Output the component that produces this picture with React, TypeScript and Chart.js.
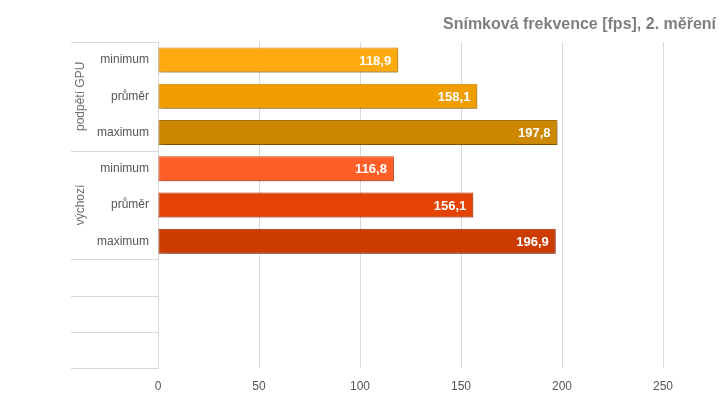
import React, { useEffect, useRef } from "react";
import { Chart, registerables } from "chart.js";

Chart.register(...registerables);

const title = "Snímková frekvence [fps], 2. měření";
const categories = ["minimum", "průměr", "maximum", "minimum", "průměr", "maximum", "", "", ""];
const values: (number | null)[] = [118.9, 158.1, 197.8, 116.8, 156.1, 196.9, null, null, null];
const groups = [
  { label: "podpětí GPU", from: 0, to: 2 },
  { label: "výchozí", from: 3, to: 5 },
];
const barColors = ["#FDAA10", "#F09D00", "#CC8800", "#FF5F26", "#E54304", "#CC3B00", "#000", "#000", "#000"];
const barBorders = ["#D68C08", "#C88300", "#A87000", "#D94A17", "#BF3600", "#A83000", "#000", "#000", "#000"];
const xTicks = [0, 50, 100, 150, 200, 250];

const FONT = "'Liberation Sans', Arial, sans-serif";
const GRID = "#d9d9d9";

export default function App() {
  const ref = useRef<HTMLCanvasElement | null>(null);

  useEffect(() => {
    document.body.style.margin = "0";
    const canvas = ref.current;
    if (!canvas) return;

    const decor = {
      id: "decor",
      beforeDatasetsDraw(chart: any) {
        const ctx = chart.ctx;
        ctx.save();
        ctx.shadowColor = "rgba(0,0,0,0.35)";
        ctx.shadowOffsetX = 1;
        ctx.shadowOffsetY = 2;
        ctx.shadowBlur = 3;
      },
      afterDatasetsDraw(chart: any) {
        const ctx = chart.ctx;
        ctx.restore();
        const meta = chart.getDatasetMeta(0);
        ctx.save();
        ctx.fillStyle = "#ffffff";
        ctx.font = `bold 13px ${FONT}`;
        ctx.textAlign = "right";
        ctx.textBaseline = "middle";
        meta.data.forEach((el: any, i: number) => {
          const v = values[i];
          if (v == null) return;
          ctx.fillText(v.toFixed(1).replace(".", ","), el.x - 7, el.y + 1);
        });
        ctx.restore();
      },
      afterDraw(chart: any) {
        const ctx = chart.ctx;
        const { top, bottom, left } = chart.chartArea;
        const n = categories.length;
        const step = (bottom - top) / n;
        ctx.save();
        ctx.strokeStyle = GRID;
        ctx.lineWidth = 1;
        const bounds = [0, 3, 6, 7, 8, 9];
        bounds.forEach((b) => {
          const y = Math.round(top + b * step) + 0.5;
          ctx.beginPath();
          ctx.moveTo(71, y);
          ctx.lineTo(left, y);
          ctx.stroke();
        });
        ctx.fillStyle = "#6e6e6e";
        ctx.font = `12px ${FONT}`;
        ctx.textAlign = "center";
        ctx.textBaseline = "middle";
        groups.forEach((g) => {
          const cy = top + ((g.from + g.to + 1) / 2) * step;
          ctx.save();
          ctx.translate(81, cy);
          ctx.rotate(-Math.PI / 2);
          ctx.fillText(g.label, 0, 0);
          ctx.restore();
        });
        ctx.fillStyle = "#7f7f7f";
        ctx.font = `bold 16px ${FONT}`;
        ctx.textAlign = "right";
        ctx.fillText(title, 716, 25);
        ctx.restore();
      },
    };

    const chart = new Chart(canvas, {
      type: "bar",
      data: {
        labels: categories,
        datasets: [
          {
            data: values,
            backgroundColor: barColors,
            borderColor: barBorders,
            borderWidth: 1,
            borderSkipped: false,
            barPercentage: 0.69,
            categoryPercentage: 1,
          },
        ],
      },
      options: {
        indexAxis: "y",
        responsive: false,
        animation: false,
        layout: { padding: { top: 42, right: 57, left: 0, bottom: 0 } },
        plugins: {
          legend: { display: false },
          title: { display: false },
          tooltip: { enabled: false },
        },
        scales: {
          x: {
            min: 0,
            max: 250,
            afterBuildTicks: (scale: any) => {
              scale.ticks = xTicks.map((v) => ({ value: v }));
            },
            afterFit: (scale: any) => {
              scale.height = 38;
            },
            grid: { color: GRID, tickLength: 0, drawTicks: false },
            border: { display: false },
            ticks: {
              color: "#555555",
              font: { family: FONT, size: 12 },
              padding: 11,
            },
          },
          y: {
            afterFit: (scale: any) => {
              scale.width = 158;
            },
            grid: { display: false },
            border: { display: true, color: GRID },
            ticks: {
              color: "#555555",
              font: { family: FONT, size: 12 },
              padding: 1,
              autoSkip: false,
            },
          },
        },
      },
      plugins: [decor],
    } as any);

    return () => chart.destroy();
  }, []);

  return (
    <div style={{ position: "absolute", left: 0, top: 0, width: 720, height: 406 }}>
      <canvas ref={ref} width={720} height={406} />
    </div>
  );
}
